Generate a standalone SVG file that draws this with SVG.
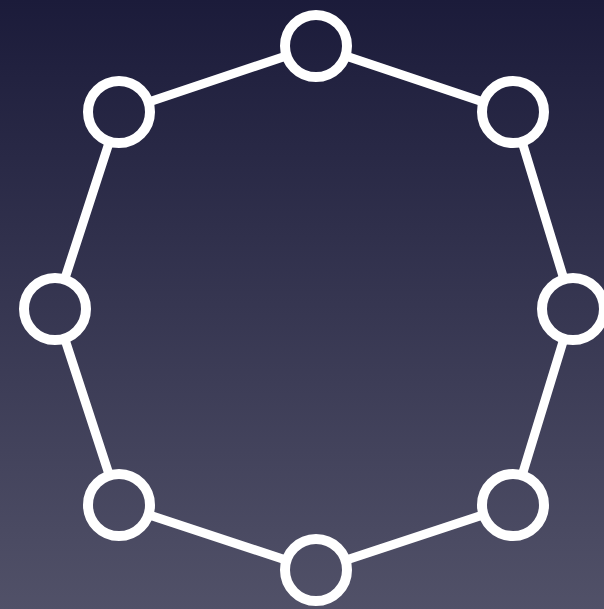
<svg xmlns="http://www.w3.org/2000/svg" width="604" height="609" viewBox="0 0 604 609">
<defs>
<linearGradient id="bg" gradientUnits="userSpaceOnUse" x1="0" y1="0" x2="0" y2="609">
<stop offset="0" stop-color="#1b1b3a"/>
<stop offset="1" stop-color="#515168"/>
</linearGradient>
</defs>
<style>
.edge{stroke:#ffffff;stroke-width:9;fill:none}
.node{stroke:#ffffff;stroke-width:10;fill:url(#bg)}
</style>
<rect x="0" y="0" width="604" height="609" fill="url(#bg)"/>
<g id="connectors">
<polygon class="edge" points="316,46 513,112 573,309 513,505 316,570 119,505 55,309 119,112"/>
</g>
<g id="n-top"><circle class="node" cx="316" cy="46" r="31"/></g>
<g id="n-ur"><circle class="node" cx="513" cy="112" r="31"/></g>
<g id="n-r"><circle class="node" cx="573" cy="309" r="31"/></g>
<g id="n-lr"><circle class="node" cx="513" cy="505" r="31"/></g>
<g id="n-b"><circle class="node" cx="316" cy="570" r="31"/></g>
<g id="n-ll"><circle class="node" cx="119" cy="505" r="31"/></g>
<g id="n-l"><circle class="node" cx="55" cy="309" r="31"/></g>
<g id="n-ul"><circle class="node" cx="119" cy="112" r="31"/></g>
</svg>
